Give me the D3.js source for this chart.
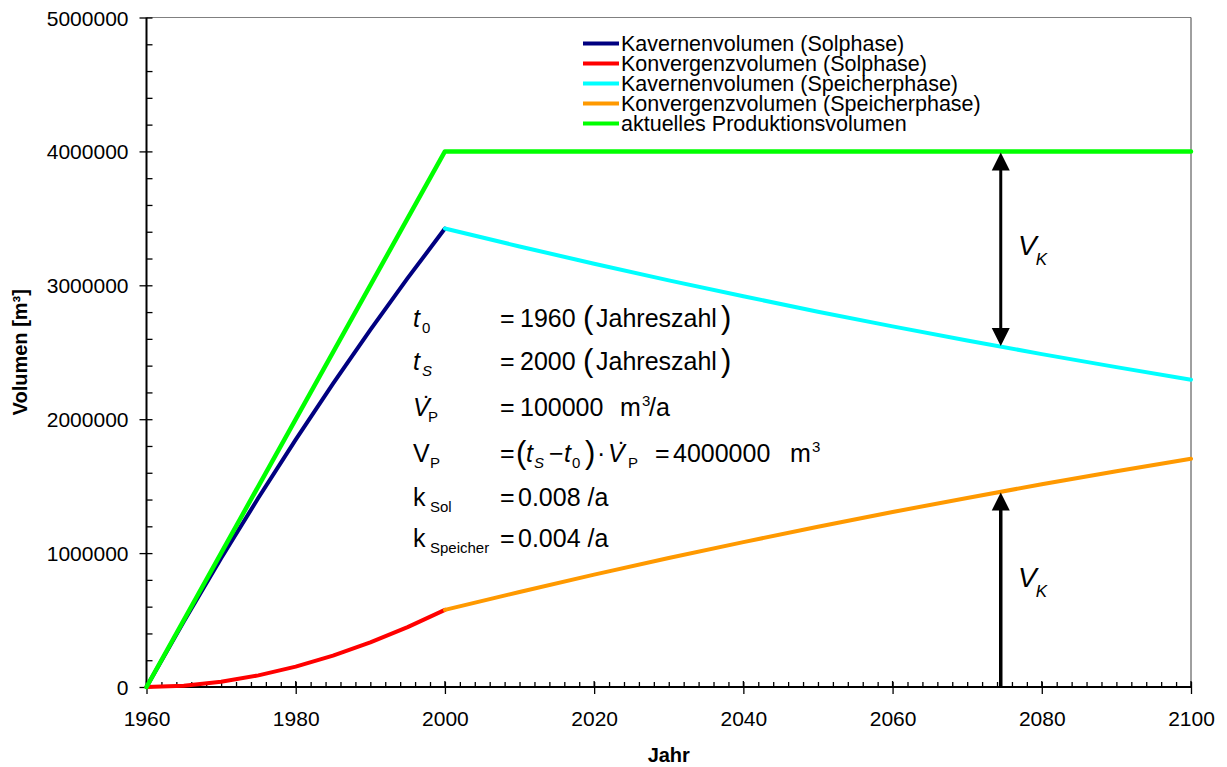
<!DOCTYPE html>
<html><head><meta charset="utf-8">
<script src="https://cdn.jsdelivr.net/npm/d3@7"></script>
<style>
body{margin:0;background:#fff;}
text{font-family:"Liberation Sans",Arial,sans-serif;fill:#000;}
</style></head>
<body>
<svg id="chart" width="1227" height="767"></svg>
<script>
// ---- data ----
const yearsSol = [1960,1965,1970,1975,1980,1985,1990,1995,2000];
const kavSol   = [0,490000,961000,1413000,1848000,2266000,2667000,3053000,3424000];
const konvSol  = [0,10000,39000,87000,152000,234000,333000,447000,576000];
const yearsSpeicher = [2000,2010,2020,2030,2040,2050,2060,2070,2080,2090,2100];
const kavSpeicher   = [3424000,3290000,3161000,3037000,2918000,2803000,2693000,2588000,2486000,2389000,2295000];
const konvSpeicher  = [576000,710000,839000,963000,1082000,1197000,1307000,1412000,1514000,1611000,1705000];
const yearsProd = [1960,2000,2100];
const prodVol   = [0,4000000,4000000];
const yTicks = [0,1000000,2000000,3000000,4000000,5000000];
const xTicks = [1960,1980,2000,2020,2040,2060,2080,2100];
const arrowYear = 2074.5;
const arrowKav = 2540000;
const arrowKonv = 1460000;
const seriesNames = ["Kavernenvolumen (Solphase)","Konvergenzvolumen (Solphase)","Kavernenvolumen (Speicherphase)","Konvergenzvolumen (Speicherphase)","aktuelles Produktionsvolumen"];
const seriesColors = ["#000080","#ff0000","#00ffff","#ff9900","#00ff00"];

const svg = d3.select("#chart");
const L = 146.5, R = 1191, T = 17.5, B = 687;
const x = d3.scaleLinear().domain([1960,2100]).range([L,R]);
const y = d3.scaleLinear().domain([0,5000000]).range([B,T]);

// plot frame
svg.append("line").attr("x1",L).attr("x2",R).attr("y1",T).attr("y2",T).attr("stroke","#808080").attr("stroke-width",1);
svg.append("line").attr("x1",R).attr("x2",R).attr("y1",T).attr("y2",B).attr("stroke","#404040").attr("stroke-width",1);

// y axis: minor ticks inside
const minorY = d3.range(0,5000001,200000);
svg.append("g").attr("transform",`translate(${L},0)`)
  .call(d3.axisRight(y).tickValues(minorY).tickSize(6).tickFormat(""))
  .call(g=>g.select(".domain").remove())
  .call(g=>g.selectAll("line").attr("stroke","#000").attr("stroke-width",1.3));
svg.append("g").attr("transform",`translate(${L},0)`)
  .call(d3.axisLeft(y).tickValues(yTicks).tickSize(7).tickPadding(11).tickFormat(d3.format("d")))
  .call(g=>g.select(".domain").remove())
  .call(g=>g.selectAll("line").attr("stroke","#000").attr("stroke-width",1.3))
  .call(g=>g.selectAll("text").attr("font-size",21).attr("font-family","Liberation Sans, Arial, sans-serif").attr("dy","0.36em"));

// x axis
const minorX = d3.range(1960,2101,2);
svg.append("g").attr("transform",`translate(0,${B})`)
  .call(d3.axisTop(x).tickValues(minorX).tickSize(5).tickFormat(""))
  .call(g=>g.select(".domain").remove())
  .call(g=>g.selectAll("line").attr("stroke","#000").attr("stroke-width",1.3));
svg.append("g").attr("transform",`translate(0,${B})`)
  .call(d3.axisBottom(x).tickValues(xTicks).tickSize(7).tickPadding(17).tickFormat(d3.format("d")))
  .call(g=>g.select(".domain").remove())
  .call(g=>g.selectAll("line").attr("stroke","#000").attr("stroke-width",1.3))
  .call(g=>g.selectAll("text").attr("font-size",21).attr("font-family","Liberation Sans, Arial, sans-serif"));
svg.append("g").selectAll("line").data(xTicks).join("line")
  .attr("x1",d=>x(d)).attr("x2",d=>x(d)).attr("y1",B).attr("y2",B-6).attr("stroke","#000").attr("stroke-width",1.3);

// axis lines
svg.append("line").attr("x1",L).attr("x2",L).attr("y1",T).attr("y2",B).attr("stroke","#000").attr("stroke-width",2);
svg.append("line").attr("x1",L).attr("x2",R).attr("y1",B).attr("y2",B).attr("stroke","#000").attr("stroke-width",2);

// axis titles
svg.append("text").attr("transform",`translate(27,${(T+B)/2}) rotate(-90)`).attr("text-anchor","middle")
  .attr("font-size",20).attr("font-weight","bold").text("Volumen [m³]");
svg.append("text").attr("x",(L+R)/2).attr("y",762).attr("text-anchor","middle")
  .attr("font-size",20).attr("font-weight","bold").text("Jahr");

// series
const line = d3.line().x(d=>x(d[0])).y(d=>y(d[1]));
const seriesData = [
  d3.zip(yearsSol,kavSol),
  d3.zip(yearsSol,konvSol),
  d3.zip(yearsSpeicher,kavSpeicher),
  d3.zip(yearsSpeicher,konvSpeicher),
  d3.zip(yearsProd,prodVol)
];
seriesData.forEach((dat,i)=>{
  svg.append("path").datum(dat).attr("d",line).attr("fill","none")
    .attr("stroke",seriesColors[i]).attr("stroke-width",i===4?4.5:4)
    .attr("stroke-linejoin","round").attr("stroke-linecap","round");
});

// legend
const lg = svg.append("g");
seriesNames.forEach((n,i)=>{
  const by = 50.5 + i*20;
  lg.append("line").attr("x1",583).attr("x2",619).attr("y1",by-7).attr("y2",by-7)
    .attr("stroke",seriesColors[i]).attr("stroke-width",4);
  lg.append("text").attr("x",621).attr("y",by).attr("font-size",21.5).text(n);
});

// arrows
const ax = x(arrowYear);
function arrowHead(tipY, dir){
  const h=18, w=9;
  svg.append("path").attr("d",`M${ax},${tipY} L${ax-w},${tipY-dir*h} L${ax+w},${tipY-dir*h} Z`).attr("fill","#000");
}
svg.append("line").attr("x1",ax).attr("x2",ax).attr("y1",y(4000000)+10).attr("y2",y(arrowKav)-10).attr("stroke","#000").attr("stroke-width",3);
arrowHead(y(4000000)+1,-1);
arrowHead(y(arrowKav)-1,1);
svg.append("line").attr("x1",ax).attr("x2",ax).attr("y1",y(0)).attr("y2",y(arrowKonv)+10).attr("stroke","#000").attr("stroke-width",3.5);
arrowHead(y(arrowKonv)+1,-1);

function vk(xp, base){
  const t = svg.append("text").attr("x",xp).attr("y",base).attr("font-size",28).attr("font-style","italic");
  t.append("tspan").text("V");
  t.append("tspan").attr("font-size",17).attr("dy",10).attr("dx",-1).text("K");
}
vk(1018,255);
vk(1018,587);

// formula block
const fs = 25, ss = 15;
function txt(xp, yp, s, opts={}){
  const t = svg.append("text").attr("x",xp).attr("y",yp).attr("font-size",opts.size||fs).text(s);
  if(opts.italic) t.attr("font-style","italic");
  if(opts.serif) t.attr("font-family","Liberation Serif, serif");
  return t;
}
const rows = [327,370,416,462,506,547];
// row 1
txt(413,rows[0],"t",{italic:true}); txt(422,rows[0]+6,"0",{size:ss});
txt(500,rows[0],"="); txt(520,rows[0],"1960");
txt(583,rows[0]+1,"(",{serif:true,size:31}); txt(596,rows[0],"Jahreszahl"); txt(721,rows[0]+1,")",{serif:true,size:31});
// row 2
txt(413,rows[1],"t",{italic:true}); txt(422,rows[1]+6,"S",{size:ss,italic:true});
txt(500,rows[1],"="); txt(520,rows[1],"2000");
txt(583,rows[1]+1,"(",{serif:true,size:31}); txt(596,rows[1],"Jahreszahl"); txt(721,rows[1]+1,")",{serif:true,size:31});
// row 3
txt(413,rows[2],"V",{italic:true}); txt(423,rows[2]-1,"˙",{size:fs});
txt(428,rows[2]+6,"P",{size:ss});
txt(500,rows[2],"="); txt(520,rows[2],"100000");
txt(620,rows[2],"m"); txt(642,rows[2]-10,"3",{size:ss}); txt(649,rows[2],"/a");
// row 4
txt(413,rows[3],"V"); txt(430,rows[3]+6,"P",{size:ss});
txt(500,rows[3],"="); txt(516,rows[3]+1,"(",{serif:true,size:31});
txt(526,rows[3],"t",{italic:true}); txt(534,rows[3]+6,"S",{size:ss,italic:true});
txt(549,rows[3],"−"); txt(564,rows[3],"t",{italic:true}); txt(572,rows[3]+6,"0",{size:ss});
txt(585,rows[3]+1,")",{serif:true,size:31});
txt(597,rows[3],"·");
txt(608,rows[3],"V",{italic:true}); txt(618,rows[3]-1,"˙",{size:fs}); txt(628,rows[3]+6,"P",{size:ss});
txt(655,rows[3],"="); txt(673,rows[3],"4000000");
txt(790,rows[3],"m"); txt(812,rows[3]-10,"3",{size:ss});
// row 5
txt(413,rows[4],"k"); txt(430,rows[4]+6,"Sol",{size:ss});
txt(500,rows[4],"="); txt(518,rows[4],"0.008 /a");
// row 6
txt(413,rows[5],"k"); txt(430,rows[5]+6,"Speicher",{size:ss});
txt(500,rows[5],"="); txt(518,rows[5],"0.004 /a");
</script>
</body></html>
